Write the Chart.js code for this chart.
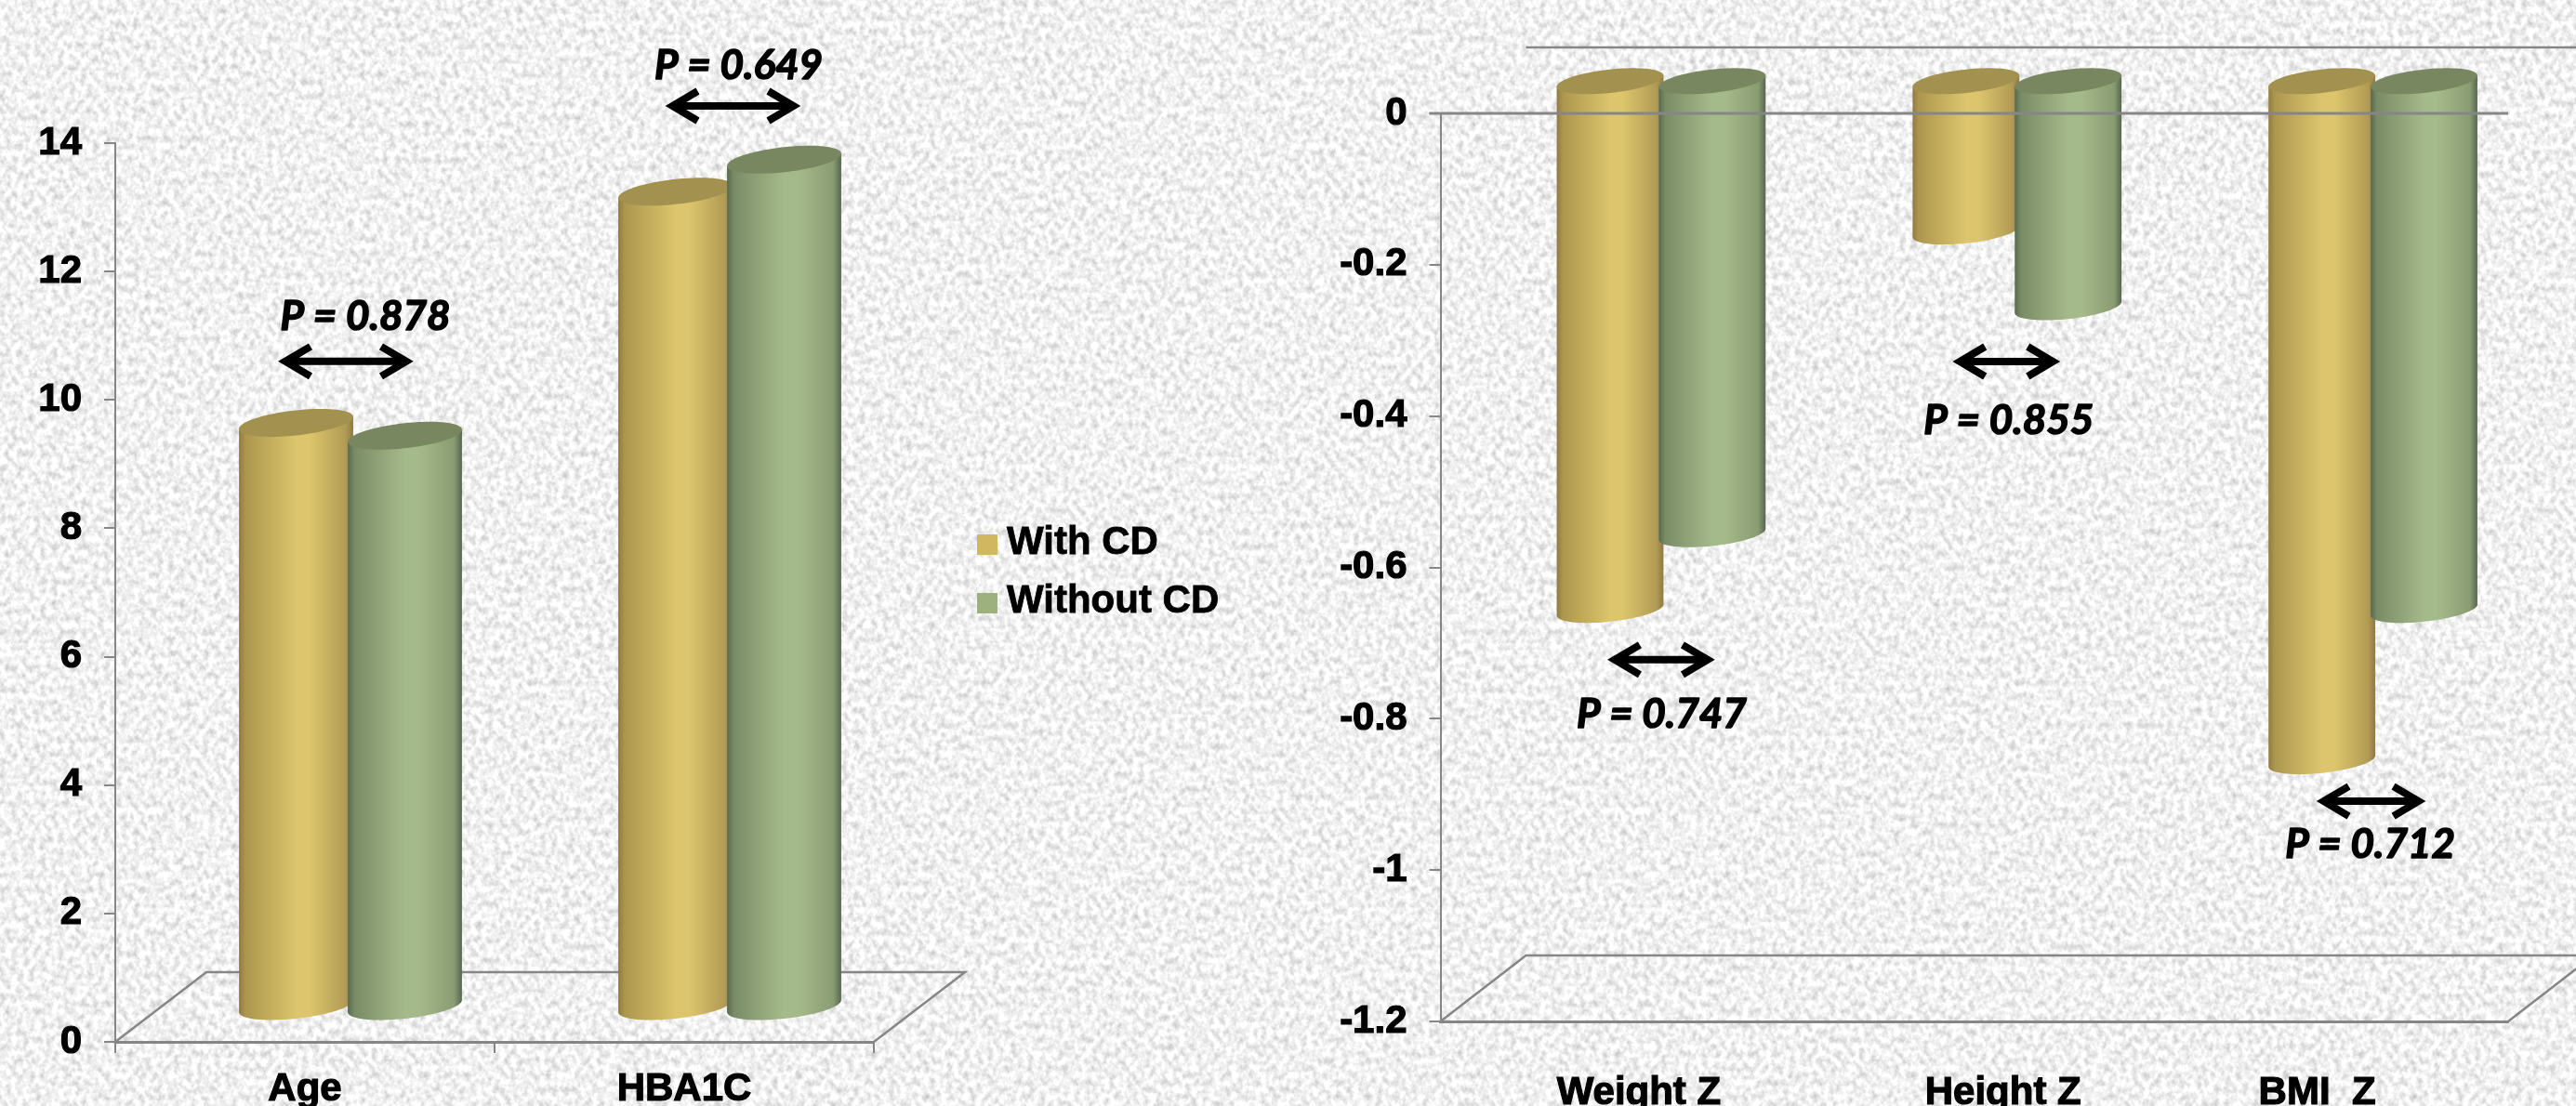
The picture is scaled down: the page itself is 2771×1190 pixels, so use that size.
<!DOCTYPE html>
<html>
<head>
<meta charset="utf-8">
<title>With CD vs Without CD</title>
<script src="https://cdn.jsdelivr.net/npm/chart.js@4"></script>
<style>
  html, body { margin: 0; padding: 0; width: 2771px; height: 1190px; overflow: hidden; background-color: #eeeeee; }
  #paper { position: absolute; left: 0; top: 0; width: 2771px; height: 1190px; }
  canvas { position: absolute; top: 0; }
  #leftChart { left: 0; }
  #rightChart { left: 1300px; }
  #legend { position: absolute; left: 1051px; top: 550px; font: bold 42px "Liberation Sans", Arial, sans-serif; color: #000; -webkit-text-stroke: 0.8px #000; }
  #legend div { height: 63px; line-height: 63px; white-space: nowrap; }
  #legend span { display: inline-block; width: 22px; height: 22px; margin-right: 10px; vertical-align: -1px; }
</style>
</head>
<body>
<svg id="paper" xmlns="http://www.w3.org/2000/svg">
  <filter id="grain" x="0" y="0" width="100%" height="100%" color-interpolation-filters="sRGB">
    <feTurbulence type="fractalNoise" baseFrequency="0.16 0.13" numOctaves="3" seed="7"/>
    <feColorMatrix values="0.4 0 0 0 0.745  0.4 0 0 0 0.745  0.4 0 0 0 0.745  0 0 0 0 1"/>
  </filter>
  <rect width="100%" height="100%" filter="url(#grain)"/>
</svg>
<canvas id="leftChart" width="1050" height="1190"></canvas>
<canvas id="rightChart" width="1471" height="1190"></canvas>
<div id="legend"></div>
<script>
// series names
const seriesNames = ['With CD', 'Without CD'];

// age and HbA1c
const leftCategories = ['Age', 'HBA1C'];
const leftWithCD = [9.1, 12.7];
const leftWithoutCD = [8.9, 13.2];
const leftTicks = [0, 2, 4, 6, 8, 10, 12, 14];

// z scores
const rightCategories = ['Weight Z', 'Height Z', 'BMI  Z'];
const rightWithCD = [-0.7, -0.2, -0.9];
const rightWithoutCD = [-0.6, -0.3, -0.7];
const rightTicks = [0, -0.2, -0.4, -0.6, -0.8, -1, -1.2];

const leftPValues = ['P = 0.878', 'P = 0.649'];
const rightPValues = ['P = 0.747', 'P = 0.855', 'P = 0.712'];

const axisGrey = '#868686';
const tickFont = { family: '"Liberation Sans", Arial, sans-serif', size: 42, weight: 'bold' };

const fills = [
  { legend: '#cfb85f', cap: '#a3914f', stops: ['#8f7b42', '#ad974f', '#dcc56c', '#dcc56c', '#b29c55', '#8e7a42'] },
  { legend: '#9cb17e', cap: '#78875f', stops: ['#586a4e', '#7a8c66', '#a5ba8a', '#a5ba8a', '#8a9c72', '#566750'] }
];
const gradientAt = [0, 0.06, 0.5, 0.62, 0.93, 1];

function drawCylinder(ctx, el, fill, look) {
  const cx = el.x + look.depthX;
  const top = Math.min(el.y, el.base) + look.depthY;
  const bottom = Math.max(el.y, el.base) + look.depthY;
  const a = el.width / 2;
  const tilt = look.tilt;
  const b = Math.sqrt(look.capHalf * look.capHalf - tilt * tilt);
  const rim = (cy, t) => [cx + a * Math.cos(t), cy - tilt * Math.cos(t) + b * Math.sin(t)];

  const grad = ctx.createLinearGradient(cx - a, 0, cx + a, 0);
  fill.stops.forEach((c, i) => grad.addColorStop(gradientAt[i], c));
  ctx.beginPath();
  ctx.moveTo(cx - a, top + tilt);
  for (let i = 0; i <= 40; i++) {
    const p = rim(bottom, Math.PI - Math.PI * i / 40);
    ctx.lineTo(p[0], p[1]);
  }
  ctx.lineTo(cx + a, top - tilt);
  ctx.closePath();
  ctx.fillStyle = grad;
  ctx.fill();

  ctx.beginPath();
  for (let i = 0; i < 80; i++) {
    const p = rim(top, Math.PI * 2 * i / 80);
    if (i === 0) ctx.moveTo(p[0], p[1]); else ctx.lineTo(p[0], p[1]);
  }
  ctx.closePath();
  ctx.fillStyle = fill.cap;
  ctx.fill();
}

function drawArrow(ctx, x1, x2, y) {
  ctx.save();
  ctx.strokeStyle = '#000';
  ctx.lineWidth = 8;
  ctx.lineJoin = 'miter';
  ctx.beginPath();
  ctx.moveTo(x1 + 4, y);
  ctx.lineTo(x2 - 4, y);
  ctx.moveTo(x1 + 32, y - 16);
  ctx.lineTo(x1 + 5, y);
  ctx.lineTo(x1 + 32, y + 16);
  ctx.moveTo(x2 - 32, y - 16);
  ctx.lineTo(x2 - 5, y);
  ctx.lineTo(x2 - 32, y + 16);
  ctx.stroke();
  ctx.restore();
}

// floor, cylinders, zero line and the P value notes all go in one pass
const cylinders = {
  id: 'cylinders',
  beforeDraw(chart) {
    const look = chart.options.plugins.cylinders;
    chart.scales.x.getLabelItems().forEach((item, i) => {
      if (!item.moved) {
        item.options.translation[0] += look.labelShift[i];
        item.moved = true;
      }
    });
  },
  beforeDatasetsDraw(chart) {
    const ctx = chart.ctx;
    const look = chart.options.plugins.cylinders;
    const area = chart.chartArea;
    const y0 = chart.scales.y.getPixelForValue(0);

    ctx.save();
    ctx.strokeStyle = axisGrey;
    ctx.lineWidth = 2.5;
    ctx.beginPath();
    ctx.moveTo(area.left, area.bottom);
    ctx.lineTo(area.left + look.floorX, area.bottom + look.floorY);
    ctx.lineTo(area.right + look.floorX, area.bottom + look.floorY);
    ctx.lineTo(area.right, area.bottom);
    if (look.backLine) {
      ctx.moveTo(area.left + look.floorX, y0 + look.floorY);
      ctx.lineTo(area.right + look.floorX, y0 + look.floorY);
    }
    ctx.stroke();
    ctx.restore();

    chart.data.datasets.forEach((ds, i) => {
      chart.getDatasetMeta(i).data.forEach(el => drawCylinder(ctx, el, fills[i], look));
    });

    if (look.backLine) {
      ctx.save();
      ctx.strokeStyle = axisGrey;
      ctx.lineWidth = 3;
      ctx.beginPath();
      ctx.moveTo(area.left - 12, y0);
      ctx.lineTo(area.right, y0);
      ctx.stroke();
      ctx.restore();
    }

    ctx.save();
    ctx.fillStyle = '#000';
    ctx.strokeStyle = '#000';
    ctx.lineWidth = 1.6;
    ctx.lineJoin = 'round';
    ctx.font = 'italic bold 44px Lato, "Noto Sans", sans-serif';
    ctx.textAlign = 'center';
    ctx.textBaseline = 'middle';
    look.notes.forEach((note, i) => {
      const cx = chart.scales.x.getPixelForValue(i);
      const arrowY = chart.scales.y.getPixelForValue(note.arrowAt);
      const textY = chart.scales.y.getPixelForValue(note.textAt);
      drawArrow(ctx, cx + note.arrowDx - note.arrowHalf, cx + note.arrowDx + note.arrowHalf, arrowY);
      ctx.fillText(look.pValues[i], cx + note.textDx, textY);
      ctx.strokeText(look.pValues[i], cx + note.textDx, textY);
    });
    ctx.restore();
    return false;
  }
};

function makeChart(id, categories, withCD, withoutCD, ticks, setup) {
  return new Chart(document.getElementById(id), {
    type: 'bar',
    data: {
      labels: categories,
      datasets: [
        { label: seriesNames[0], data: withCD, backgroundColor: fills[0].legend, categoryPercentage: setup.catPct, barPercentage: setup.barPct },
        { label: seriesNames[1], data: withoutCD, backgroundColor: fills[1].legend, categoryPercentage: setup.catPct, barPercentage: setup.barPct }
      ]
    },
    plugins: [cylinders],
    options: {
      responsive: false,
      animation: false,
      layout: { padding: setup.padding },
      plugins: {
        legend: { display: false },
        tooltip: { enabled: false },
        cylinders: setup.look
      },
      scales: {
        x: {
          offset: true,
          grid: { offset: true, drawOnChartArea: false, drawTicks: setup.xTicks, tickLength: 12, color: axisGrey, lineWidth: 2 },
          border: { color: axisGrey, width: 3 },
          ticks: { color: '#000', font: tickFont, padding: setup.labelPad, maxRotation: 0, autoSkip: false, textStrokeColor: '#000', textStrokeWidth: 1.2 },
          afterFit: s => { s.height = setup.xHeight; }
        },
        y: {
          min: ticks[ticks.length - 1] < 0 ? ticks[ticks.length - 1] : ticks[0],
          max: ticks[ticks.length - 1] < 0 ? ticks[0] : ticks[ticks.length - 1],
          afterBuildTicks: s => { s.ticks = ticks.map(v => ({ value: v })); },
          grid: { drawOnChartArea: false, tickLength: 12, color: axisGrey, lineWidth: 2 },
          border: { color: axisGrey, width: 2 },
          ticks: { color: '#000', font: tickFont, padding: 24, textStrokeColor: '#000', textStrokeWidth: 1.2, callback: v => String(v) },
          afterFit: s => { s.width = setup.yWidth; }
        }
      }
    }
  });
}

const leftChart = makeChart('leftChart', leftCategories, leftWithCD, leftWithoutCD, leftTicks, {
  catPct: 0.5735, barPct: 1.05, padding: { top: 154, right: 110, left: 0, bottom: 0 },
  xHeight: 69, yWidth: 124, labelPad: 14, xTicks: true,
  look: {
    depthX: 49, depthY: -37.5, floorX: 98, floorY: -75, tilt: 6.5, capHalf: 15, backLine: false,
    labelShift: [0, 0], pValues: leftPValues,
    notes: [
      { arrowAt: 10.6, arrowDx: 44, arrowHalf: 70, textAt: 11.3, textDx: 65 },
      { arrowAt: 14.58, arrowDx: 52.5, arrowHalf: 70, textAt: 15.2, textDx: 58.5 }
    ]
  }
});

const rightChart = makeChart('rightChart', rightCategories, rightWithCD, rightWithoutCD, rightTicks, {
  catPct: 0.574, barPct: 1.045, padding: { top: 122, right: 73, left: 0, bottom: 0 },
  xHeight: 91, yWidth: 249.5, labelPad: 52, xTicks: false,
  look: {
    depthX: 46, depthY: -35.7, floorX: 92, floorY: -71, tilt: 6, capHalf: 14, backLine: true,
    labelShift: [22, 31, -14], pValues: rightPValues,
    notes: [
      { arrowAt: -0.722, arrowDx: 46, arrowHalf: 55, textAt: -0.795, textDx: 46.5 },
      { arrowAt: -0.328, arrowDx: 34.5, arrowHalf: 55, textAt: -0.406, textDx: 37 },
      { arrowAt: -0.909, arrowDx: 44, arrowHalf: 56, textAt: -0.967, textDx: 43 }
    ]
  }
});

// legend sits between the two plots, so it is built as plain html
const legendBox = document.getElementById('legend');
leftChart.options.plugins.legend.labels.generateLabels(leftChart).forEach(item => {
  const row = document.createElement('div');
  const swatch = document.createElement('span');
  swatch.style.background = item.fillStyle;
  row.appendChild(swatch);
  row.appendChild(document.createTextNode(item.text));
  legendBox.appendChild(row);
});
</script>
</body>
</html>
